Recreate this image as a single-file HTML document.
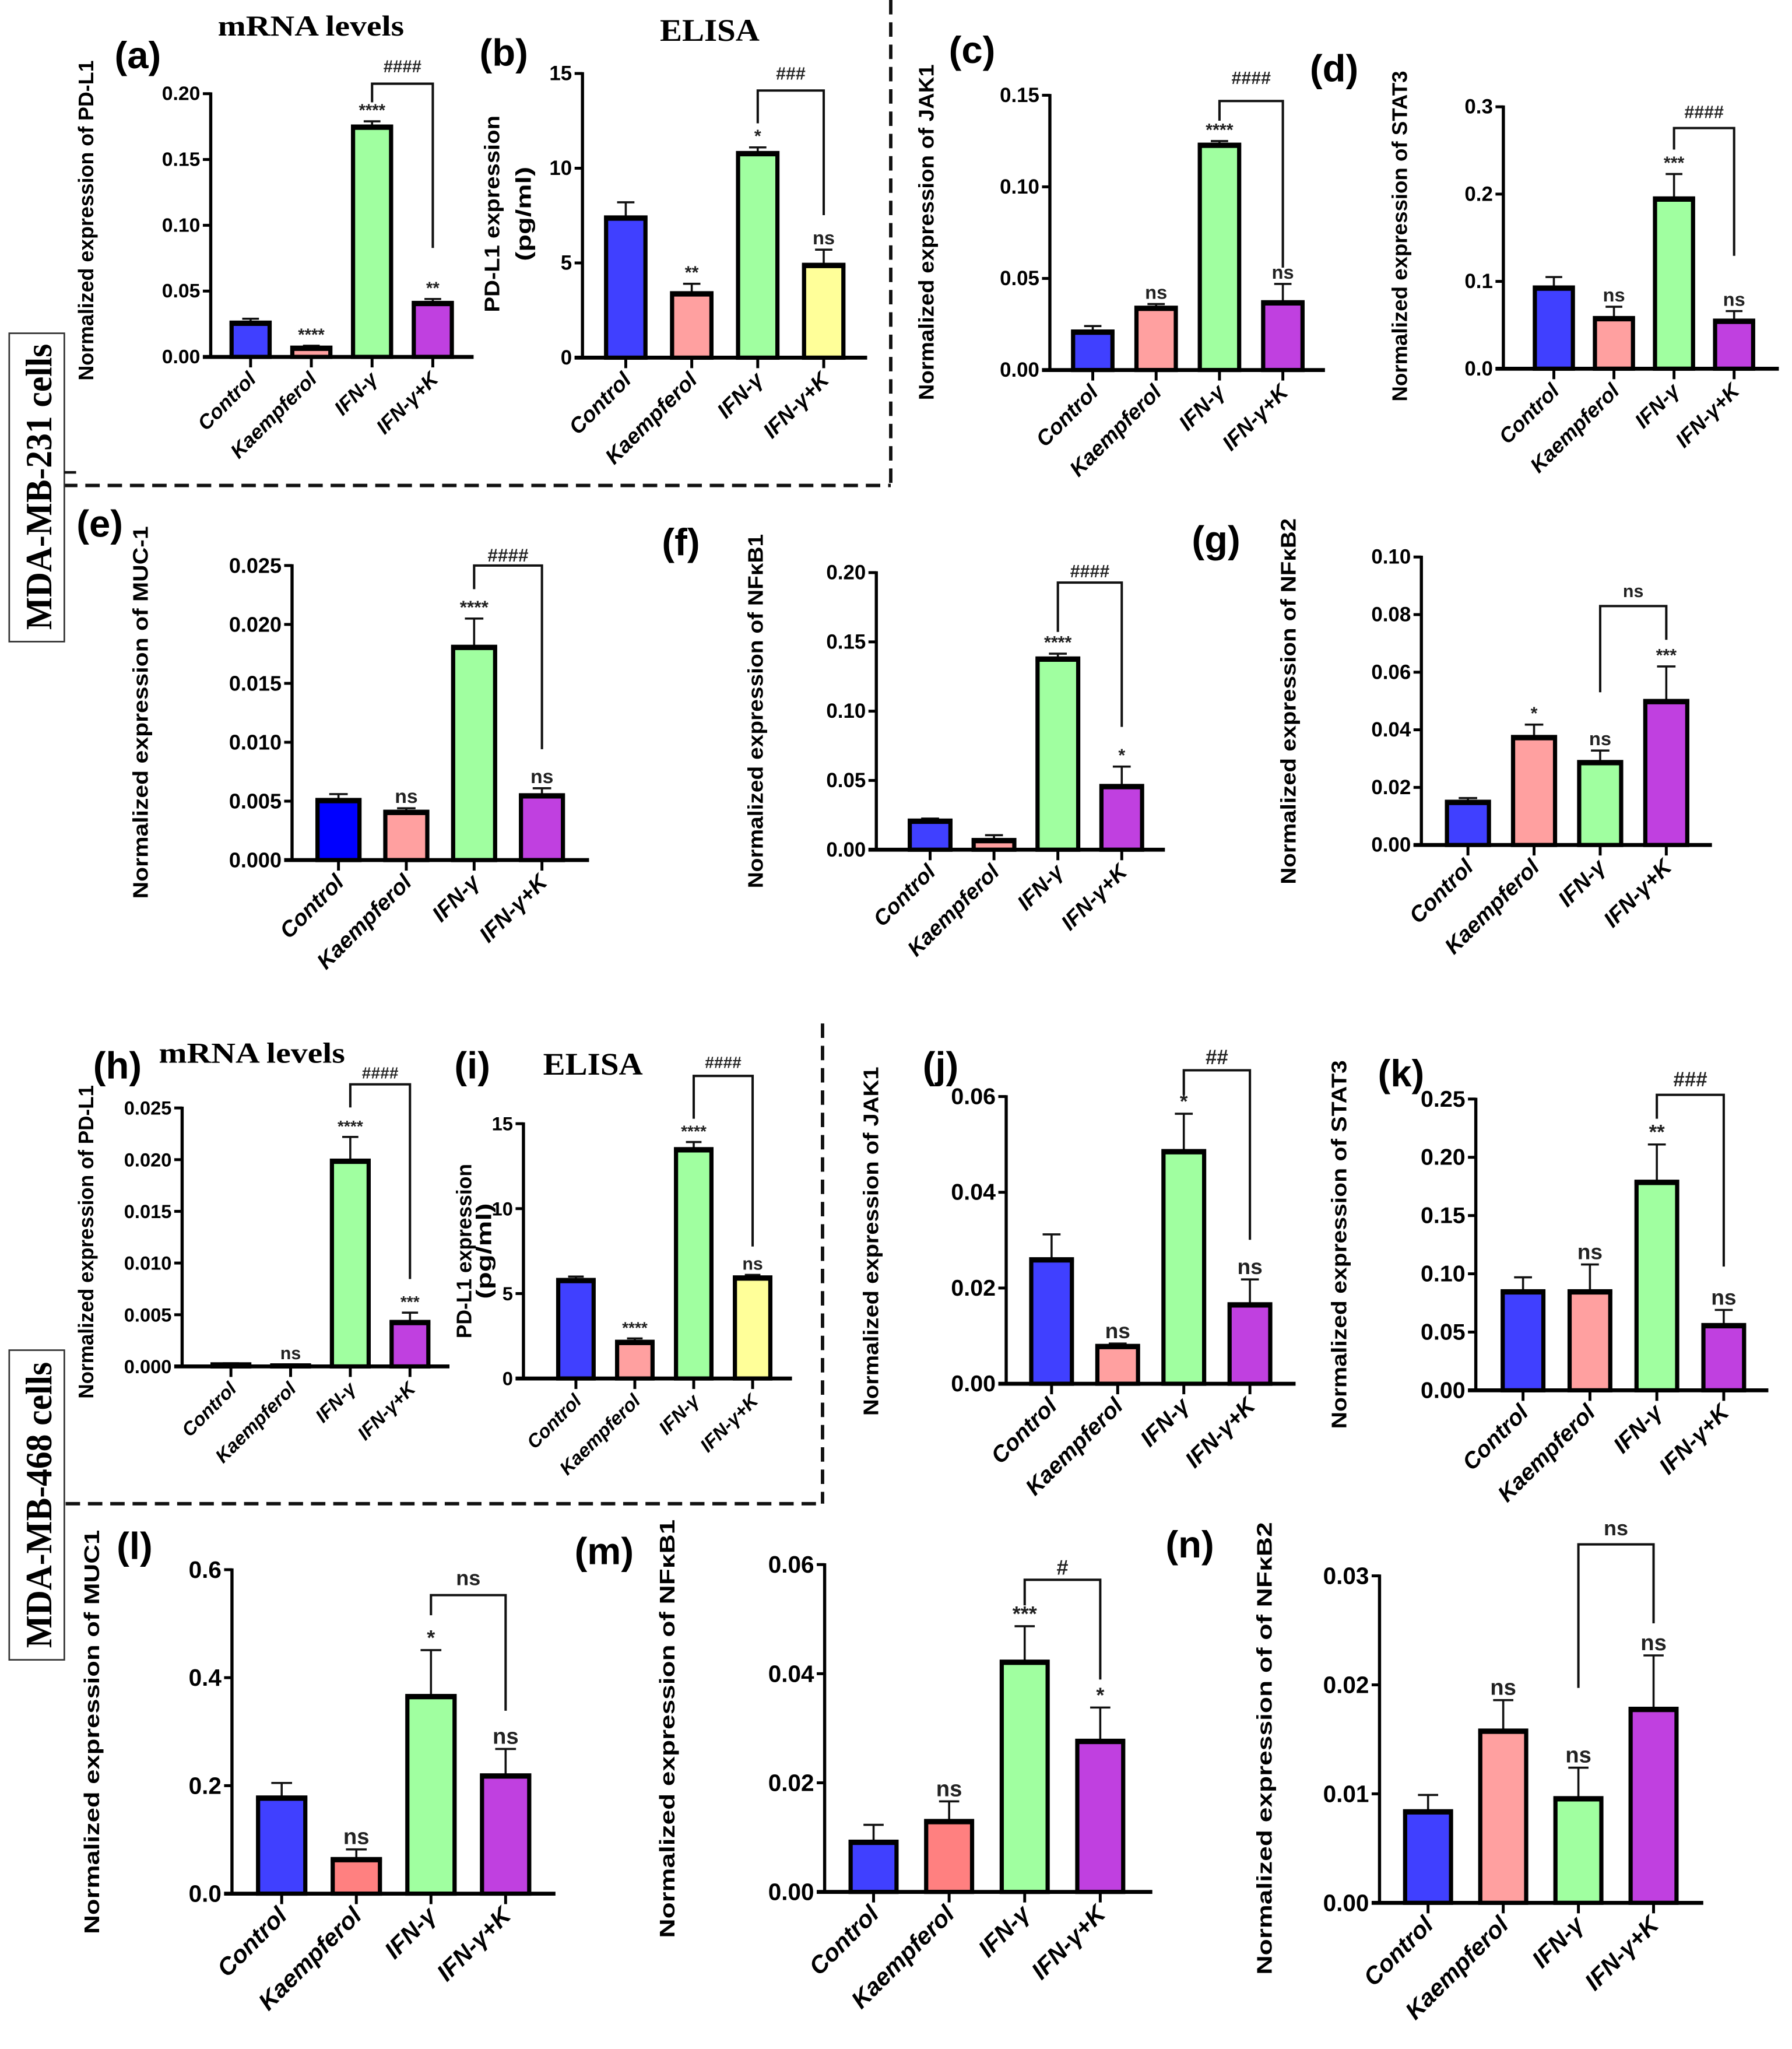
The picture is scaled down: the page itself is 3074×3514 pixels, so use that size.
<!DOCTYPE html>
<html><head><meta charset="utf-8">
<style>
html,body{margin:0;padding:0;background:#fff;}
svg{display:block;}
.tk{font-family:"Liberation Sans Narrow","Liberation Sans",sans-serif;font-weight:bold;}
.xl{font-family:"Liberation Sans",sans-serif;font-weight:bold;font-style:italic;}
.yl{font-family:"Liberation Sans",sans-serif;font-weight:bold;}
.lt{font-family:"Liberation Sans Narrow","Liberation Sans",sans-serif;font-weight:bold;}
.ser{font-family:"Liberation Serif",serif;font-weight:bold;}
</style></head>
<body>
<svg id="fig" xmlns="http://www.w3.org/2000/svg" width="3074" height="3514" viewBox="0 0 1366 1561.6">
<rect x="0" y="0" width="1366" height="1561.6" fill="#fff"/>
<g stroke="#111" stroke-width="2.6" stroke-dasharray="11 6" fill="none">
<line x1="679" y1="0" x2="679" y2="370"/>
<line x1="48" y1="370" x2="679" y2="370"/>
<line x1="627" y1="780" x2="627" y2="1146"/>
<line x1="50" y1="1146" x2="627" y2="1146"/>
</g>
<g>
<rect x="7" y="254" width="42" height="235" fill="#fff" stroke="#333" stroke-width="1.2"/>
<line x1="49" y1="360" x2="58" y2="360" stroke="#111" stroke-width="2"/>
<text class="ser" x="0" y="0" font-size="28" text-anchor="middle" textLength="218" lengthAdjust="spacingAndGlyphs" transform="translate(39,371) rotate(-90)">MDA-MB-231 cells</text>
</g>
<g>
<rect x="7" y="1029" width="42" height="236" fill="#fff" stroke="#333" stroke-width="1.2"/>
<text class="ser" x="0" y="0" font-size="28" text-anchor="middle" textLength="218" lengthAdjust="spacingAndGlyphs" transform="translate(39,1147) rotate(-90)">MDA-MB-468 cells</text>
</g>
<text class="ser" x="237" y="27" font-size="22" text-anchor="middle" textLength="142" lengthAdjust="spacingAndGlyphs">mRNA levels</text>
<text class="ser" x="541" y="31" font-size="24" text-anchor="middle" textLength="76" lengthAdjust="spacingAndGlyphs">ELISA</text>
<text class="ser" x="192" y="810" font-size="22" text-anchor="middle" textLength="142" lengthAdjust="spacingAndGlyphs">mRNA levels</text>
<text class="ser" x="452" y="819" font-size="24" text-anchor="middle" textLength="76" lengthAdjust="spacingAndGlyphs">ELISA</text>
</svg>
<script>
const categories = ["Control","Kaempferol","IFN-\u03b3","IFN-\u03b3+K"];
const valsA = [0.026, 0.007, 0.175, 0.041];
const errsA = [0.003, 0.0015, 0.004, 0.003];
const valsB = [7.4, 3.4, 10.8, 4.9];
const errsB = [0.8, 0.5, 0.3, 0.8];
const valsC = [0.021, 0.034, 0.123, 0.037];
const errsC = [0.003, 0.002, 0.002, 0.010];
const valsD = [0.093, 0.058, 0.195, 0.055];
const errsD = [0.012, 0.013, 0.028, 0.011];
const valsE = [0.0051, 0.0041, 0.0181, 0.0055];
const errsE = [0.0005, 0.0003, 0.0024, 0.0006];
const valsF = [0.021, 0.007, 0.138, 0.046];
const errsF = [0.0015, 0.0035, 0.0035, 0.014];
const valsG = [0.015, 0.0375, 0.0288, 0.050];
const errsG = [0.0013, 0.0043, 0.004, 0.012];
const valsH = [0.0002, 0.0001, 0.0199, 0.0043];
const errsH = [0.0001, 0.0001, 0.0023, 0.0009];
const valsI = [5.8, 2.16, 13.5, 5.95];
const errsI = [0.2, 0.2, 0.42, 0.15];
const valsJ = [0.026, 0.0079, 0.0486, 0.0166];
const errsJ = [0.0052, 0.0005, 0.0078, 0.0052];
const valsK = [0.085, 0.085, 0.179, 0.056];
const errsK = [0.012, 0.023, 0.032, 0.013];
const valsL = [0.178, 0.064, 0.366, 0.219];
const errsL = [0.027, 0.018, 0.085, 0.049];
const valsM = [0.0092, 0.013, 0.0422, 0.0277];
const errsM = [0.0031, 0.0036, 0.0065, 0.0061];
const valsN = [0.0084, 0.0158, 0.0096, 0.0178];
const errsN = [0.0015, 0.0028, 0.0028, 0.0049];
const ticksA = [0, 0.05, 0.10, 0.15, 0.20];
const ticksB = [0, 5, 10, 15];
const ticksC = [0, 0.05, 0.10, 0.15];
const ticksD = [0, 0.1, 0.2, 0.3];
const ticksE = [0, 0.005, 0.010, 0.015, 0.020, 0.025];
const ticksF = [0, 0.05, 0.10, 0.15, 0.20];
const ticksG = [0, 0.02, 0.04, 0.06, 0.08, 0.10];
const ticksH = [0, 0.005, 0.010, 0.015, 0.020, 0.025];
const ticksI = [0, 5, 10, 15];
const ticksJ = [0, 0.02, 0.04, 0.06];
const ticksK = [0, 0.05, 0.10, 0.15, 0.20, 0.25];
const ticksL = [0, 0.2, 0.4, 0.6];
const ticksM = [0, 0.02, 0.04, 0.06];
const ticksN = [0, 0.01, 0.02, 0.03];
const starsA = ["", "****", "****", "**"];
const starsB = ["", "**", "*", "ns"];
const starsC = ["", "ns", "****", "ns"];
const starsD = ["", "ns", "***", "ns"];
const starsE = ["", "ns", "****", "ns"];
const starsF = ["", "", "****", "*"];
const starsG = ["", "*", "ns", "***"];
const starsH = ["", "ns", "****", "***"];
const starsI = ["", "****", "****", "ns"];
const starsJ = ["", "ns", "*", "ns"];
const starsK = ["", "ns", "**", "ns"];
const starsL = ["", "ns", "*", "ns"];
const starsM = ["", "ns", "***", "*"];
const starsN = ["", "ns", "ns", "ns"];
const hashLabels = ["####", "###", "####", "####", "####", "####", "ns", "####", "####", "##", "###", "ns", "#", "ns"];

const BLUE="#4040ff", PINK="#ffa0a0", GREEN="#a0ffa0", PURP="#c040e0", YEL="#ffff99";
const panels = [
 {id:"a",v:valsA,e:errsA,t:ticksA,s:starsA,dec:2,ax:160.6,y0:272,yT:71.4,end:361,c0:191,st:46.3,bw:29,br:[63.8,78,189,55],yl:["Normalized expression of PD-L1"],ylx:[65.5],ylr:[46,290],let:[105,52],fs:15,xfs:15.5,cols:[BLUE,PINK,GREEN,PURP]},
 {id:"b",v:valsB,e:errsB,t:ticksB,s:starsB,dec:0,ax:444,y0:272.6,yT:56,end:661,c0:477,st:50.3,bw:30,br:[69,94,164,60.7],yl:["PD-L1 expression","(pg/ml)"],ylx:[375,399],ylr:[88,238],ylr2:[127,199],let:[384,50],fs:15.5,xfs:16.5,cols:[BLUE,PINK,GREEN,YEL]},
 {id:"c",v:valsC,e:errsC,t:ticksC,s:starsC,dec:2,ax:800.3,y0:282,yT:72.6,end:1010,c0:833,st:48.3,bw:30,br:[77,92,204,64],yl:["Normalized expression of JAK1"],ylx:[706],ylr:[49,305],let:[741,48],fs:15.5,xfs:16.5,cols:[BLUE,PINK,GREEN,PURP]},
 {id:"d",v:valsD,e:errsD,t:ticksD,s:starsD,dec:1,ax:1146,y0:281,yT:81.4,end:1356,c0:1184.5,st:45.8,bw:29,br:[97.6,114,195,90],yl:["Normalized expression of STAT3"],ylx:[1067],ylr:[54,306],let:[1017,62],fs:15.5,xfs:16,cols:[BLUE,PINK,GREEN,PURP]},
 {id:"e",v:valsE,e:errsE,t:ticksE,s:starsE,dec:3,ax:222.6,y0:655.5,yT:431,end:449,c0:258,st:51.7,bw:32,br:[431,449,571,428],yl:["Normalized expression of MUC-1"],ylx:[107],ylr:[401,685],let:[76,409],fs:16,xfs:17,cols:["#0000ff",PINK,GREEN,PURP]},
 {id:"f",v:valsF,e:errsF,t:ticksF,s:starsF,dec:2,ax:668,y0:647.6,yT:436.4,end:888,c0:709,st:48.7,bw:31,br:[444,481.6,554,440],yl:["Normalized expression of NF\u03baB1"],ylx:[576],ylr:[407,677],let:[519,423],fs:15.5,xfs:16.5,cols:[BLUE,PINK,GREEN,PURP]},
 {id:"g",v:valsG,e:errsG,t:ticksG,s:starsG,dec:2,ax:1083.5,y0:644,yT:424.5,end:1305,c0:1119,st:50.4,bw:32,br:[461.9,527.6,487.6,455],yl:["Normalized expression of NF\u03baB2"],ylx:[982],ylr:[395,674],let:[927,421],fs:15.5,xfs:17,cols:[BLUE,PINK,GREEN,PURP]},
 {id:"h",v:valsH,e:errsH,t:ticksH,s:starsH,dec:3,ax:138.8,y0:1041.4,yT:844.4,end:342.6,c0:176,st:45.5,bw:28,br:[826.4,844,974.8,822],yl:["Normalized expression of PD-L1"],ylx:[65.5],ylr:[827,1066],let:[89.5,822],fs:14.5,xfs:14.5,cols:[BLUE,PINK,GREEN,PURP]},
 {id:"i",v:valsI,e:errsI,t:ticksI,s:starsI,dec:0,ax:399,y0:1050.6,yT:856.4,end:603.7,c0:439,st:44.9,bw:27,br:[820,852.6,950,814],yl:["PD-L1 expression","(pg/ml)"],ylx:[353.6,368.8],ylr:[887,1020],ylr2:[917,990],let:[360,822],fs:14.5,xfs:14.5,cols:[BLUE,PINK,GREEN,YEL]},
 {id:"j",v:valsJ,e:errsJ,t:ticksJ,s:starsJ,dec:2,ax:767,y0:1054.6,yT:835.7,end:987.6,c0:801.6,st:50.4,bw:31,br:[815.7,834.4,944.9,811],yl:["Normalized expression of JAK1"],ylx:[664],ylr:[813,1079],let:[717,822],fs:17.5,xfs:17.5,cols:[BLUE,PINK,GREEN,PURP]},
 {id:"k",v:valsK,e:errsK,t:ticksK,s:starsK,dec:2,ax:1125,y0:1059.6,yT:837.6,end:1348,c0:1161,st:51,bw:31,br:[834.4,852.6,965.3,828],yl:["Normalized expression of STAT3"],ylx:[1020.8],ylr:[808,1089],let:[1068,828],fs:17.5,xfs:17.5,cols:[BLUE,PINK,GREEN,PURP]},
 {id:"l",v:valsL,e:errsL,t:ticksL,s:starsL,dec:1,ax:176.8,y0:1443.2,yT:1196.3,end:423.4,c0:214.7,st:56.9,bw:36,br:[1215.7,1231,1303.8,1208],yl:["Normalized expression of MUC1"],ylx:[70],ylr:[1166,1474],let:[102.6,1188],fs:18,xfs:18.5,cols:[BLUE,"#ff8080",GREEN,PURP]},
 {id:"m",v:valsM,e:errsM,t:ticksM,s:starsM,dec:2,ax:628.6,y0:1441.9,yT:1192.4,end:878.4,c0:665.9,st:57.6,bw:35,br:[1204,1223.5,1280,1200],yl:["Normalized expression of NF\u03baB1"],ylx:[508.5],ylr:[1158,1477],let:[460.5,1192],fs:18,xfs:18.5,cols:[BLUE,"#ff8080",GREEN,PURP]},
 {id:"n",v:valsN,e:errsN,t:ticksN,s:starsN,dec:2,ax:1051.6,y0:1450.2,yT:1201,end:1298.4,c0:1088.6,st:57.3,bw:35,br:[1177,1286.4,1237.2,1170],yl:["Normalized expression of of NF\u03baB2"],ylx:[963.8],ylr:[1160,1505],let:[907,1187],fs:18,xfs:18.5,cols:[BLUE,PINK,GREEN,PURP]}
];
const NS="http://www.w3.org/2000/svg";
const svg=document.getElementById("fig");
function mk(tag,attrs,parent){const el=document.createElementNS(NS,tag);for(const k in attrs)el.setAttribute(k,attrs[k]);(parent||svg).appendChild(el);return el;}
panels.forEach((p,pi)=>{
  const g=mk("g",{});
  
  
  const tmax=p.t[p.t.length-1];
  const Y=v=>p.y0-(v/tmax)*(p.y0-p.yT);
  const X=i=>p.c0+i*p.st;
  const lt=mk("text",{class:"lt",x:p.let[0],y:p.let[1],"font-size":29,"text-anchor":"middle"},g);
  lt.textContent="("+p.id+")";
  
  
  p.yl.forEach((txt,li)=>{
    const r=li===0?p.ylr:p.ylr2;
    const cy=(r[0]+r[1])/2, x=p.ylx[li];
    const t=mk("text",{class:"yl",x:0,y:0,"font-size":16,"text-anchor":"middle","dominant-baseline":"central",textLength:(r[1]-r[0]),lengthAdjust:"spacingAndGlyphs",transform:`translate(${x},${cy}) rotate(-90)`},g);
    t.textContent=txt;
    
    
  });
  p.v.forEach((v,i)=>{
    const cx=X(i), top=Y(v), et=Y(v+p.e[i]);
    const eb=mk("line",{x1:cx,y1:top,x2:cx,y2:et,stroke:"#111","stroke-width":1.6},g);
    
    
    const cap=mk("line",{x1:cx-p.bw*0.22,y1:et,x2:cx+p.bw*0.22,y2:et,stroke:"#111","stroke-width":1.6},g);
    
    
    const h=Math.max(p.y0-top,0.5);
    const r=mk("rect",{x:cx-p.bw/2,y:top,width:p.bw,height:h,fill:p.cols[i],stroke:"#000","stroke-width":3.2},g);
    
    
    if(h>3){const tl=mk("line",{x1:cx-p.bw/2-1.5,y1:top+1,x2:cx+p.bw/2+1.5,y2:top+1,stroke:"#000","stroke-width":3},g);
      
      }
    if(p.s[i]){
      const st=mk("text",{class:"lt",x:cx,y:et-4,"font-size":p.s[i]==="ns"?p.fs-1:p.fs-2,"text-anchor":"middle",fill:"#222"},g);
      st.textContent=p.s[i];
      
      
    }
    const xt=mk("line",{x1:cx,y1:p.y0,x2:cx,y2:p.y0+8,stroke:"#000","stroke-width":2.2},g);
    
    
    const xl=mk("text",{class:"xl",x:0,y:0,"font-size":p.xfs,"text-anchor":"end",transform:`translate(${cx+5},${p.y0+18}) rotate(-45)`},g);
    xl.textContent=categories[i];
    
    
  });
  const ya=mk("line",{x1:p.ax,y1:p.yT-1,x2:p.ax,y2:p.y0,stroke:"#000","stroke-width":2.4},g);
  
  
  const xa=mk("line",{x1:p.ax-6,y1:p.y0,x2:p.end,y2:p.y0,stroke:"#000","stroke-width":3},g);
  
  
  p.t.forEach(tv=>{
    const y=Y(tv);
    const tk=mk("line",{x1:p.ax-6,y1:y,x2:p.ax,y2:y,stroke:"#000","stroke-width":2.2},g);
    
    
    const tl=mk("text",{class:"tk",x:p.ax-8,y:y,"font-size":p.fs,"text-anchor":"end","dominant-baseline":"central"},g);
    tl.textContent=tv.toFixed(p.dec);
    
    
  });
  const x1=X(2), x2=X(3), b=p.br;
  const br=mk("path",{d:`M${x1},${b[1]} L${x1},${b[0]} L${x2},${b[0]} L${x2},${b[2]}`,fill:"none",stroke:"#111","stroke-width":1.8},g);
  
  
  const bl=mk("text",{class:"lt",x:(x1+x2)/2,y:b[3],"font-size":p.fs-2,"text-anchor":"middle",fill:"#222"},g);
  bl.textContent=hashLabels[pi];
  
  
});
</script>
</body></html>
